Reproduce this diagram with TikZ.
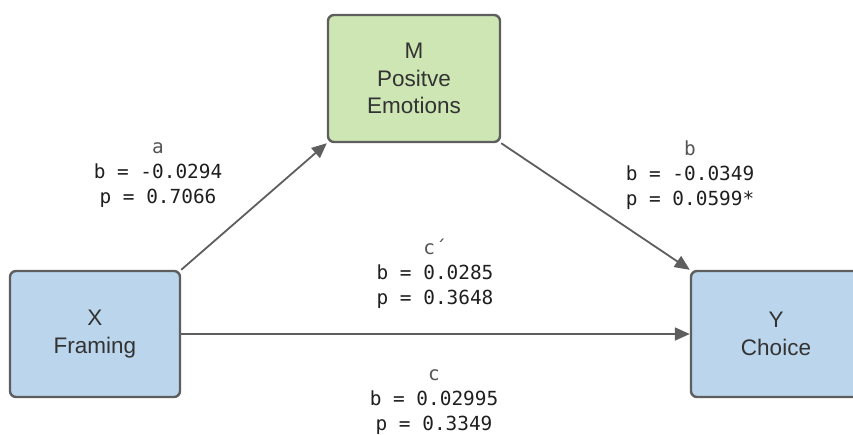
\documentclass[tikz,border=0pt]{standalone}
\usepackage{fontspec}
\setmainfont{Liberation Sans}
\newfontfamily\monofont{DejaVu Sans Mono}
\usetikzlibrary{arrows.meta}

\definecolor{edgegray}{HTML}{5E5E5E}
\definecolor{boxblue}{HTML}{BAD5EC}
\definecolor{boxgreen}{HTML}{CDE6B4}
\definecolor{boxtext}{HTML}{333333}
\definecolor{headgray}{HTML}{555555}
\definecolor{valtext}{HTML}{1F1F1F}

\tikzset{
  varbox/.style={draw=edgegray, line width=2.4pt, rounded corners=6pt,
    minimum width=170pt, minimum height=126pt, align=center,
    text=boxtext, font=\fontsize{22.5}{27.5}\selectfont},
  path/.style={draw=edgegray, line width=1.8pt,
    -{Triangle[length=15pt,width=13pt]}},
  stat/.style={align=center, text=valtext,
    font=\monofont\fontsize{19.4}{25}\selectfont},
}

\begin{document}
\begin{tikzpicture}[x=1pt,y=-1pt]
  \useasboundingbox (0,0) rectangle (853,434);

  % variables
  \node[varbox, fill=boxblue]  (X) at (95,334)  {X\\Framing};
  \node[varbox, fill=boxgreen, minimum width=172pt, minimum height=127pt]
       (M) at (414,78.5) {M\\Positve\\Emotions};
  \node[varbox, fill=boxblue]  (Y) at (776,334) {Y\\Choice};

  % paths
  \draw[path] (X.north east) -- (M.south west);
  \draw[path] (M.south east) -- (Y.north west);
  \draw[path] (X.east) -- (Y.west);

  % coefficients
  \node[stat] (sa)  at (158,175) {\textcolor{headgray}{a}\\b = -0.0294\\p = 0.7066};
  \node[stat] (sb)  at (690,175) {\textcolor{headgray}{b}\\b = -0.0349\\p = 0.0599*};
  \node[stat] (scp) at (435,274) {\textcolor{headgray}{c´}\\b = 0.0285\\p = 0.3648};
  \node[stat] (sc)  at (434,402) {\textcolor{headgray}{c}\\b = 0.02995\\p = 0.3349};
\end{tikzpicture}
\end{document}
